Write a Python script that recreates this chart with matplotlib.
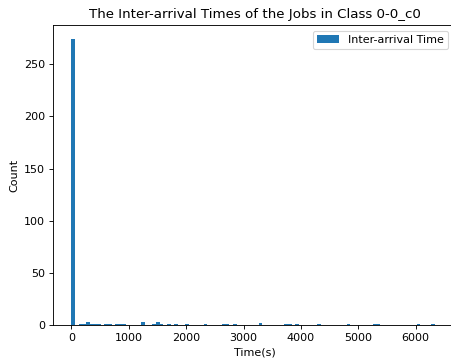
import numpy as np
import matplotlib.pyplot as plt

# histogram: 100 bins over 0..6400 s, counts
n_bins = 100
t_max = 6400.0
nonzero_bins = [0, 2, 3, 4, 5, 6, 7, 9, 10, 12, 13, 14, 19, 22, 23, 24, 26, 28, 31,
                36, 41, 42, 44, 51, 58, 59, 61, 67, 75, 82, 83, 94, 98]
nonzero_counts = [274, 1, 1, 3, 1, 1, 1, 1, 1, 1, 1, 1, 3, 1, 3, 1, 1, 1, 1,
                  1, 1, 1, 1, 2, 1, 1, 1, 1, 1, 1, 1, 1, 1]

edges = np.linspace(0, t_max, n_bins + 1)
centers = (edges[:-1] + edges[1:]) / 2
counts = np.zeros(n_bins)
counts[nonzero_bins] = nonzero_counts

dpi = 80
W, H = 451, 364
fig = plt.figure(figsize=(W / dpi, H / dpi), dpi=dpi)
# the reference is cropped on the right, so the axes run a bit past the figure edge
ax = fig.add_axes([53 / W, 1 - 325 / H, 404 / W, 300 / H])
ax.hist(centers, bins=edges, weights=counts, label='Inter-arrival Time')
ax.set_title('The Inter-arrival Times of the Jobs in Class 0-0_c0')
ax.set_xlabel('Time(s)')
ax.set_ylabel('Count')
ax.legend(loc='upper right', bbox_to_anchor=(454 / W, 1 - 25 / H),
          bbox_transform=fig.transFigure)
fig.savefig('out.png', dpi=dpi)
